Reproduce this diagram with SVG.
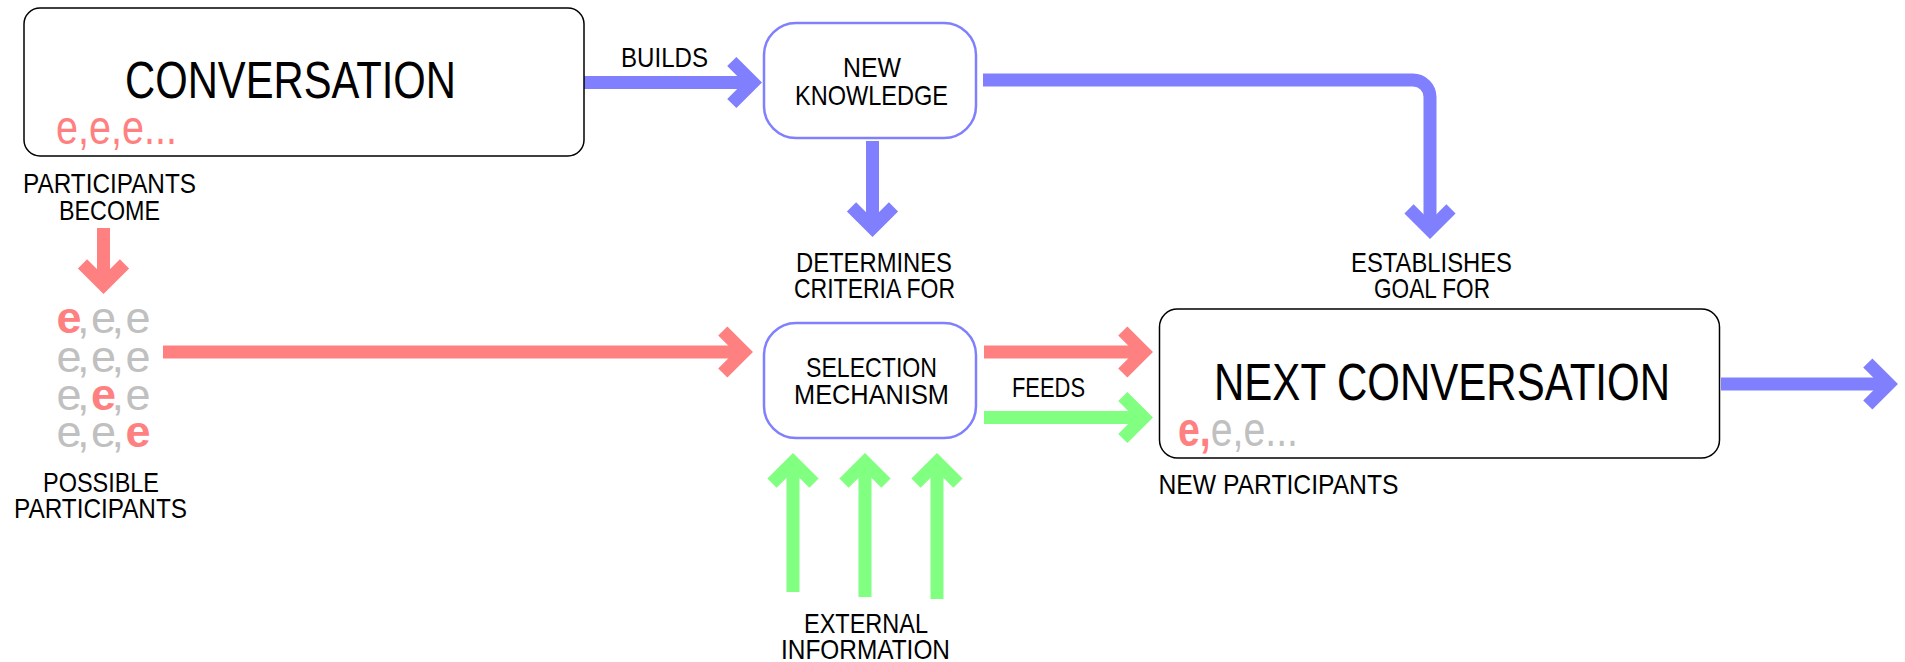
<svg xmlns="http://www.w3.org/2000/svg" width="1905" height="662" viewBox="0 0 1905 662">
  <style>
    .label { font-family: "Liberation Sans Narrow", "Liberation Sans", "DejaVu Sans Condensed", sans-serif; font-size: 28.5px; fill: #000; }
    .title { font-family: "Liberation Sans Narrow", "Liberation Sans", "DejaVu Sans Condensed", sans-serif; font-size: 52px; fill: #000; }
    .people { font-family: "Liberation Sans Narrow", "Liberation Sans", "DejaVu Sans Condensed", sans-serif; font-size: 49px; }
    .pool { font-size: 45px; }
    .pink { fill: #FF8080; }
    .grey { fill: #C0C0C0; }
    .chosen { fill: #FF8080; font-weight: bold; }
    .box-black { fill: #fff; stroke: #000; stroke-width: 1.5; }
    .box-blue { fill: #fff; stroke: #8080FF; stroke-width: 2.5; }
    .shaft { fill: none; stroke-width: 13; stroke-linecap: butt; stroke-linejoin: round; }
    .blue { stroke: #8080FF; }
    .red { stroke: #FF8080; }
    .green { stroke: #80FF80; }
  </style>
  <defs>
    <!-- open chevron heads; the shaft ends at the chevron's vertex -->
    <marker id="head-blue" markerUnits="userSpaceOnUse" viewBox="-40 -40 80 80" markerWidth="80" markerHeight="80" refX="0" refY="0" orient="auto" overflow="visible">
      <path d="M-21,-21 L0,0 L-21,21" fill="none" stroke="#8080FF" stroke-width="13" stroke-miterlimit="10"/>
    </marker>
    <marker id="head-red" markerUnits="userSpaceOnUse" viewBox="-40 -40 80 80" markerWidth="80" markerHeight="80" refX="0" refY="0" orient="auto" overflow="visible">
      <path d="M-21,-21 L0,0 L-21,21" fill="none" stroke="#FF8080" stroke-width="13" stroke-miterlimit="10"/>
    </marker>
    <marker id="head-green" markerUnits="userSpaceOnUse" viewBox="-40 -40 80 80" markerWidth="80" markerHeight="80" refX="0" refY="0" orient="auto" overflow="visible">
      <path d="M-21,-21 L0,0 L-21,21" fill="none" stroke="#80FF80" stroke-width="13" stroke-miterlimit="10"/>
    </marker>
  </defs>

  <rect width="1905" height="662" fill="#fff"/>

  <!-- connectors -->
  <g id="connectors">
    <path class="shaft blue" d="M584,82.5 H752.8" marker-end="url(#head-blue)"/>
    <path class="shaft blue" d="M872.5,141 V227.8" marker-end="url(#head-blue)"/>
    <path class="shaft blue" d="M983,80 H1413 A17,17 0 0 1 1430,97 V229.8" marker-end="url(#head-blue)"/>
    <path class="shaft red" d="M103.5,228 V284.8" marker-end="url(#head-red)"/>
    <path class="shaft red" d="M163,352 H743.8" marker-end="url(#head-red)"/>
    <path class="shaft red" d="M984,352 H1143.8" marker-end="url(#head-red)"/>
    <path class="shaft green" d="M984,417.5 H1143.8" marker-end="url(#head-green)"/>
    <path class="shaft green" d="M793,592 V462.2" marker-end="url(#head-green)"/>
    <path class="shaft green" d="M865,597 V462.2" marker-end="url(#head-green)"/>
    <path class="shaft green" d="M937,599 V462.2" marker-end="url(#head-green)"/>
    <path class="shaft blue" d="M1721,384 H1888.8" marker-end="url(#head-blue)"/>

    <text class="label" x="664.5" y="67" text-anchor="middle" textLength="87" lengthAdjust="spacingAndGlyphs">BUILDS</text>
    <text class="label" x="109.5" y="193" text-anchor="middle" textLength="173" lengthAdjust="spacingAndGlyphs">PARTICIPANTS</text>
    <text class="label" x="109.5" y="220" text-anchor="middle" textLength="101" lengthAdjust="spacingAndGlyphs">BECOME</text>
    <text class="label" x="874" y="272" text-anchor="middle" textLength="156" lengthAdjust="spacingAndGlyphs">DETERMINES</text>
    <text class="label" x="874.5" y="298" text-anchor="middle" textLength="161" lengthAdjust="spacingAndGlyphs">CRITERIA FOR</text>
    <text class="label" x="1431.5" y="272" text-anchor="middle" textLength="161" lengthAdjust="spacingAndGlyphs">ESTABLISHES</text>
    <text class="label" x="1432" y="298" text-anchor="middle" textLength="116" lengthAdjust="spacingAndGlyphs">GOAL FOR</text>
    <text class="label" x="1048.5" y="397" text-anchor="middle" textLength="73" lengthAdjust="spacingAndGlyphs">FEEDS</text>
    <text class="label" x="866" y="633" text-anchor="middle" textLength="124" lengthAdjust="spacingAndGlyphs">EXTERNAL</text>
    <text class="label" x="865.5" y="659" text-anchor="middle" textLength="169" lengthAdjust="spacingAndGlyphs">INFORMATION</text>
  </g>

  <!-- current conversation -->
  <g id="conversation">
    <rect class="box-black" x="24" y="8" width="560" height="148" rx="16"/>
    <text class="title" x="125" y="98.3" textLength="331" lengthAdjust="spacingAndGlyphs">CONVERSATION</text>
    <text class="people pink" x="56" y="144" textLength="121" lengthAdjust="spacingAndGlyphs">e,e,e...</text>
  </g>

  <!-- pool of possible participants: each glyph placed on a fixed grid -->
  <g id="possible-participants">
    <text class="people pool" y="333"><tspan class="chosen" x="56.5">e</tspan><tspan class="grey" x="77 91 111.5 125.5">,e,e</tspan></text>
    <text class="people pool grey" y="371.5" x="56.5 77 91 111.5 125.5">e,e,e</text>
    <text class="people pool" y="409.5"><tspan class="grey" x="56.5 77">e,</tspan><tspan class="chosen" x="91">e</tspan><tspan class="grey" x="111.5 125.5">,e</tspan></text>
    <text class="people pool" y="447"><tspan class="grey" x="56.5 77 91 111.5">e,e,</tspan><tspan class="chosen" x="125.5">e</tspan></text>
    <text class="label" x="101" y="492" text-anchor="middle" textLength="116" lengthAdjust="spacingAndGlyphs">POSSIBLE</text>
    <text class="label" x="100.5" y="518" text-anchor="middle" textLength="173" lengthAdjust="spacingAndGlyphs">PARTICIPANTS</text>
  </g>

  <!-- new knowledge -->
  <g id="new-knowledge">
    <rect class="box-blue" x="764" y="23" width="212" height="115" rx="32"/>
    <text class="label" x="872" y="77" text-anchor="middle" textLength="58" lengthAdjust="spacingAndGlyphs">NEW</text>
    <text class="label" x="871.5" y="104.5" text-anchor="middle" textLength="153" lengthAdjust="spacingAndGlyphs">KNOWLEDGE</text>
  </g>

  <!-- selection mechanism -->
  <g id="selection-mechanism">
    <rect class="box-blue" x="764" y="323" width="212" height="115" rx="32"/>
    <text class="label" x="871.5" y="377" text-anchor="middle" textLength="131" lengthAdjust="spacingAndGlyphs">SELECTION</text>
    <text class="label" x="871.5" y="404" text-anchor="middle" textLength="155" lengthAdjust="spacingAndGlyphs">MECHANISM</text>
  </g>

  <!-- next conversation -->
  <g id="next-conversation">
    <rect class="box-black" x="1159.5" y="309" width="560" height="149" rx="18"/>
    <text class="title" x="1214" y="400" textLength="456" lengthAdjust="spacingAndGlyphs">NEXT CONVERSATION</text>
    <text class="people" x="1178" y="446" textLength="120" lengthAdjust="spacingAndGlyphs"><tspan class="chosen">e,</tspan><tspan class="grey">e,e...</tspan></text>
    <text class="label" x="1278.5" y="494" text-anchor="middle" textLength="240" lengthAdjust="spacingAndGlyphs">NEW PARTICIPANTS</text>
  </g>
</svg>
